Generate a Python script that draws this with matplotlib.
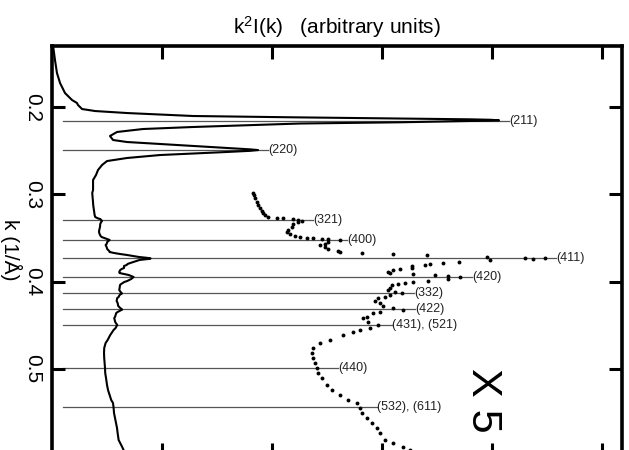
import numpy as np
import matplotlib
matplotlib.use("Agg")
import matplotlib.pyplot as plt

plt.rcParams['font.family'] = ['Liberation Sans', 'DejaVu Sans']
plt.rcParams['mathtext.default'] = 'regular'

# ---- profile k^2 I(k) (k in 1/Å, intensity in arbitrary units) ----
k_vals = [
    0.1301, 0.1462, 0.1611, 0.1725, 0.1840, 0.1920, 0.1954, 0.1977, 0.2023, 0.2046,
    0.2069, 0.2103, 0.2118, 0.2132, 0.2141, 0.2146, 0.2152, 0.2157, 0.2160, 0.2175,
    0.2189, 0.2229, 0.2252, 0.2286, 0.2332, 0.2378, 0.2401, 0.2435, 0.2470, 0.2485,
    0.2493, 0.2502, 0.2515, 0.2550, 0.2584, 0.2619, 0.2664, 0.2722, 0.2779, 0.2836,
    0.2951,
    0.2985, 0.3008, 0.3042, 0.3088, 0.3123, 0.3157, 0.3191, 0.3214, 0.3237, 0.3260,
    0.3271, 0.3277, 0.3283, 0.3294, 0.3306, 0.3317, 0.3340, 0.3375, 0.3409, 0.3432,
    0.3455, 0.3478, 0.3489, 0.3495, 0.3501, 0.3508, 0.3512, 0.3523, 0.3546, 0.3569,
    0.3581, 0.3604, 0.3627, 0.3650, 0.3661, 0.3672, 0.3684, 0.3695, 0.3718, 0.3727,
    0.3735, 0.3741, 0.3752, 0.3775, 0.3787, 0.3798, 0.3810, 0.3821, 0.3844, 0.3856,
    0.3867, 0.3890, 0.3902, 0.3913, 0.3924, 0.3936, 0.3947, 0.3970, 0.3993, 0.4005,
    0.4016, 0.4027, 0.4039, 0.4073, 0.4096, 0.4119, 0.4136, 0.4153, 0.4176, 0.4188,
    0.4222, 0.4245, 0.4279, 0.4302, 0.4320, 0.4348, 0.4360, 0.4405, 0.4417, 0.4463,
    0.4497, 0.4531, 0.4554, 0.4577, 0.4612, 0.4669, 0.4703, 0.4761, 0.4818, 0.4875,
    0.4932, 0.4990, 0.5047, 0.5104, 0.5184, 0.5242, 0.5299, 0.5356, 0.5391, 0.5448,
    0.5505, 0.5562, 0.5620, 0.5677, 0.5734, 0.5814, 0.5849, 0.5895, 0.5929, 0.5986,
]
i_vals = [
    0.010, 0.027, 0.045, 0.073, 0.118, 0.182, 0.227, 0.236, 0.273, 0.391,
    0.682, 1.282, 2.191, 3.164, 3.800, 3.982, 4.064, 3.982, 3.800, 3.164,
    2.255, 1.282, 0.827, 0.591, 0.527, 0.555, 0.682, 1.136, 1.591, 1.800,
    1.873, 1.800, 1.591, 0.982, 0.682, 0.500, 0.455, 0.418, 0.400, 0.373,
    0.373,
    0.3655, 0.3673, 0.3691, 0.3727, 0.3745, 0.3782, 0.3818, 0.3836, 0.3873, 0.3927,
    0.4091, 0.4200, 0.4382, 0.4473, 0.4545, 0.4473, 0.4382, 0.4364, 0.4291, 0.4273,
    0.4327, 0.4418, 0.4509, 0.4636, 0.4745, 0.4909, 0.5018, 0.5236, 0.5018, 0.4964,
    0.4873, 0.4964, 0.5018, 0.5200, 0.5236, 0.5636, 0.6200, 0.6818, 0.7909, 0.8600,
    0.8964, 0.8745, 0.7964, 0.7400, 0.7109, 0.6873, 0.6782, 0.6545, 0.6545, 0.6327,
    0.6200, 0.6109, 0.6145, 0.6564, 0.6964, 0.7200, 0.7418, 0.7200, 0.6836, 0.6564,
    0.6418, 0.6291, 0.6182, 0.6145, 0.6109, 0.6236, 0.6364, 0.6145, 0.6055, 0.5927,
    0.5873, 0.5964, 0.6018, 0.6200, 0.6382, 0.5964, 0.5836, 0.5727, 0.5655, 0.5745,
    0.5927, 0.5782, 0.5600, 0.5473, 0.5291, 0.5055, 0.4873, 0.4745, 0.4727, 0.4745,
    0.4782, 0.4818, 0.4836, 0.4909, 0.5000, 0.5091, 0.5236, 0.5382, 0.5545, 0.5600,
    0.5636, 0.5727, 0.5818, 0.5909, 0.5964, 0.6055, 0.6200, 0.6382, 0.6509, 0.6690,
]

# magnified (x5) part of the scan starts here
k_zoom_start = 0.298
zoom_factor = 5

# ---- reflections: position in k and where the marker line / label sits ----
hkl_labels = ['(211)', '(220)', '(321)', '(400)', '(411)', '(420)',
              '(332)', '(422)', '(431), (521)', '(440)', '(532), (611)']
hkl_k = [0.2156, 0.2493, 0.3294, 0.3523, 0.3730, 0.3944,
         0.4134, 0.4317, 0.4497, 0.4993, 0.5440]
hkl_end = [4.155, 1.964, 2.373, 2.682, 4.582, 3.818,
           3.291, 3.300, 3.091, 2.600, 2.955]

y_ticks = [0.2, 0.3, 0.4, 0.5]
x_ticks = [1, 2, 3, 4, 5]

# ================= figure =================
fig = plt.figure(figsize=(6.29, 4.5), dpi=100)
ax = fig.add_axes([0.0827, -0.0138, 0.9062, 0.9116])

k_arr = np.array(k_vals)
i_arr = np.array(i_vals)

# reflection marker lines with labels
for lab, kk, xe in zip(hkl_labels, hkl_k, hkl_end):
    ax.plot([0.1, xe], [kk, kk], color='#555555', lw=0.9, zorder=1)
    ax.text(xe, kk, lab, fontsize=9, ha='left', va='center', color='#222222')

# full scan as a line
ax.plot(i_arr, k_arr, color='black', lw=1.5, zorder=3)

# magnified part as dots
sel = k_arr >= k_zoom_start
ax.plot(i_arr[sel] * zoom_factor, k_arr[sel], linestyle='none', marker='o',
        markersize=2.8, color='black', markeredgewidth=0, zorder=3)

ax.text(3.92, 0.5356, 'X 5', fontsize=31, rotation=-90, ha='center', va='center')

ax.set_xlim(0, 5.182)
ax.set_ylim(0.6, 0.1301)
ax.set_xticks(x_ticks)
ax.set_yticks(y_ticks)
ax.set_xticklabels([])
ax.set_yticklabels([f'{v:.1f}' for v in y_ticks], rotation=-90, fontsize=15,
                   va='center', ha='right')
ax.tick_params(axis='both', direction='in', length=9.5, width=2.2,
               top=True, bottom=True, left=True, right=True)
ax.tick_params(axis='y', pad=7)
for sp in ax.spines.values():
    sp.set_linewidth(2.6)

fig.text(11 / 629, 1 - 250 / 450, 'k (1/Å)', fontsize=15, rotation=-90,
         ha='center', va='center')
fig.text(337 / 629, 1 - 34 / 450, 'k$^{2}$I(k)   (arbitrary units)',
         fontsize=15, ha='center', va='baseline')

fig.savefig('out.png', dpi=100)
